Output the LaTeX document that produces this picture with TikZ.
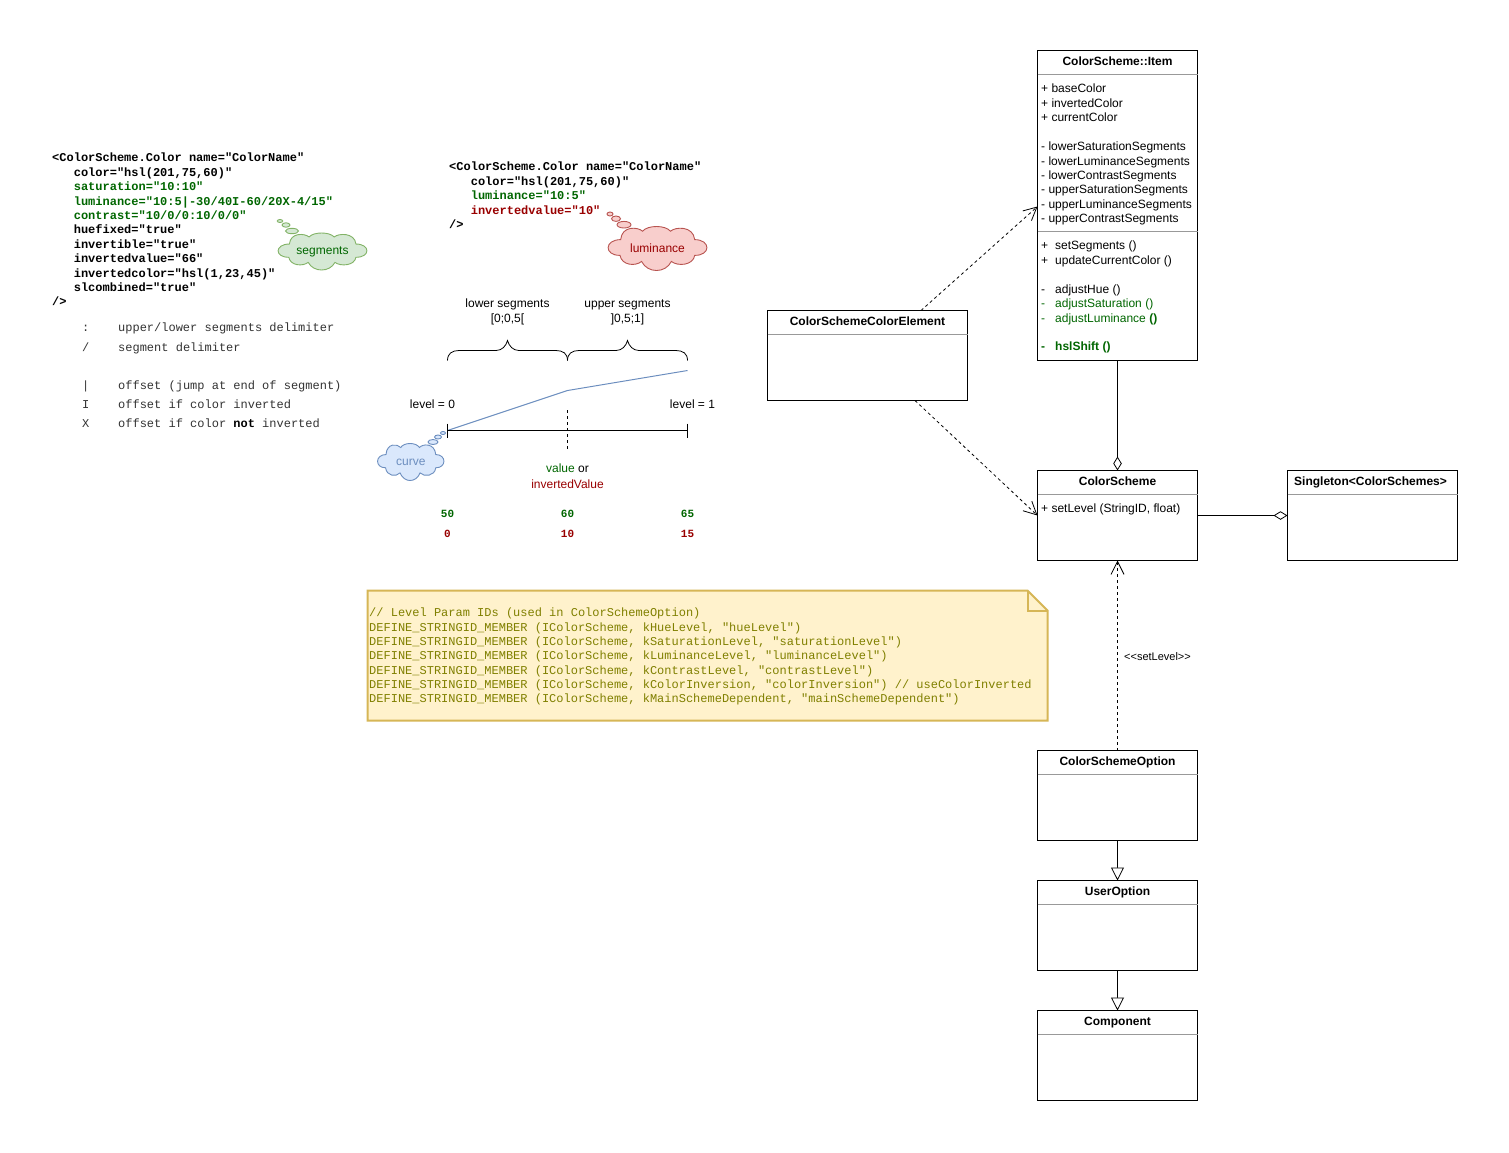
\documentclass[tikz,border=0pt]{standalone}
\usepackage{fontspec}
\usetikzlibrary{arrows.meta,calc}
\setmainfont[Ligatures=NoCommon]{Liberation Sans}
\newfontfamily\sansf{Liberation Sans}
\newfontfamily\monof{Liberation Mono}
\definecolor{dgreen}{HTML}{006600}
\definecolor{dred}{HTML}{990000}
\definecolor{greenfill}{HTML}{D5E8D4}
\definecolor{greenline}{HTML}{82B366}
\definecolor{redfill}{HTML}{F8CECC}
\definecolor{redline}{HTML}{B85450}
\definecolor{bluefill}{HTML}{DAE8FC}
\definecolor{blueline}{HTML}{6C8EBF}
\definecolor{notefill}{HTML}{FFF2CC}
\definecolor{noteline}{HTML}{D6B656}
\definecolor{notetext}{HTML}{808000}
\definecolor{headline}{HTML}{999999}
\definecolor{legendtext}{HTML}{333333}
\tikzset{
  umlbox/.style={draw=black,line width=1pt,fill=white,rectangle,inner sep=0pt,outer sep=0pt,anchor=north west},
  umltitle/.style={font=\sansf\fontsize{12}{14}\selectfont\bfseries,anchor=base,inner sep=0pt},
  membertext/.style={font=\sansf\fontsize{12}{14.43}\selectfont,align=left,anchor=north west,inner sep=0pt},
  sanslabel/.style={font=\sansf\fontsize{12}{16}\selectfont,align=center,anchor=base,inner sep=0pt},
  xmltext/.style={font=\monof\fontsize{12}{14.4}\selectfont\bfseries,align=left,anchor=north west,inner sep=0pt},
  legendrow/.style={font=\monof\fontsize{12}{14}\selectfont,text=legendtext,anchor=base west,inner sep=0pt},
  numtext/.style={font=\monof\fontsize{11}{14}\selectfont\bfseries,anchor=base,inner sep=0pt},
  notecode/.style={font=\monof\fontsize{12}{14.33}\selectfont,text=notetext,align=left,anchor=north west,inner sep=0pt},
  link/.style={line width=.8pt,draw=black},
  dashedlink/.style={link,dash pattern=on 3pt off 3pt,-{Straight Barb[length=13pt,width=13pt,line width=.8pt]}},
  aggregation/.style={link,-{Diamond[open,length=14pt,width=8.5pt,fill=white,line width=.8pt]}},
  inheritance/.style={link,-{Triangle[open,length=13pt,width=13pt,fill=white,line width=.8pt]}},
  bubble/.style={line width=.9pt},
}
% name, x, y, w, h, line y offset
\newcommand{\umlclass}[6]{%
  \node[umlbox,minimum width=#4pt,minimum height=#5pt] (#1) at (#2,#3) {};
  \draw[headline,line width=.8pt] ($(#1.north west)+(0,#6)$) -- ($(#1.north east)+(0,#6)$);
}
% name x y w h fill line textcolor text
\newcommand{\puffcloud}[9]{%
  \begin{scope}[shift={(#2,#3)},x=#4pt,y=-#5pt]
    \draw[fill=#6,draw=#7,line width=.9pt]
      (.128,.298) .. controls (.14,-.02) and (.30,.005) .. (.349,.107)
      .. controls (.40,-.036) and (.58,-.036) .. (.631,.107)
      .. controls (.68,.005) and (.86,-.02) .. (.876,.298)
      .. controls (1.04,.30) and (1.04,.66) .. (.876,.656)
      .. controls (.86,.89) and (.70,.907) .. (.64,.794)
      .. controls (.58,1.069) and (.40,1.069) .. (.339,.794)
      .. controls (.28,.907) and (.14,.89) .. (.121,.656)
      .. controls (-.04,.66) and (-.04,.30) .. (.128,.298) -- cycle;
    \node[font=\sansf\fontsize{12}{14}\selectfont,text=#8,inner sep=0pt] (#1) at (.5,.5) {#9};
  \end{scope}
}
\begin{document}
\begin{tikzpicture}[x=1pt,y=-1pt]
\useasboundingbox (0,0) rectangle (1509,1152);
\fill[white] (0,0) rectangle (1509,1152);

% --- left XML
\node[xmltext] (xmlA) at (52,153) {%
  <ColorScheme.Color name="ColorName"\\
  \hspace*{21.6pt}color="hsl(201,75,60)"\\
  \hspace*{21.6pt}\textcolor{dgreen}{saturation="10:10"}\\
  \hspace*{21.6pt}\textcolor{dgreen}{luminance="10:5|-30/40I-60/20X-4/15"}\\
  \hspace*{21.6pt}\textcolor{dgreen}{contrast="10/0/0:10/0/0"}\\
  \hspace*{21.6pt}huefixed="true"\\
  \hspace*{21.6pt}invertible="true"\\
  \hspace*{21.6pt}invertedvalue="66"\\
  \hspace*{21.6pt}invertedcolor="hsl(1,23,45)"\\
  \hspace*{21.6pt}slcombined="true"\\
  />};

% --- legend
\node[legendrow] (lgA) at (82,331) {\makebox[36pt][l]{:}upper/lower segments delimiter};
\node[legendrow] (lgB) at (82,351) {\makebox[36pt][l]{/}segment delimiter};
\node[legendrow] (lgC) at (82,389) {\makebox[36pt][l]{|}offset (jump at end of segment)};
\node[legendrow] (lgD) at (82,408) {\makebox[36pt][l]{I}offset if color inverted};
\node[legendrow] (lgE) at (82,427) {\makebox[36pt][l]{X}offset if color \textcolor{black}{\bfseries not} inverted};

% --- segments cloud
\draw[bubble,fill=greenfill,draw=greenline] (280,221) ellipse (2.7 and 1.5);
\draw[bubble,fill=greenfill,draw=greenline] (286,225) ellipse (4 and 2.2);
\draw[bubble,fill=greenfill,draw=greenline] (292,231) ellipse (6.5 and 2.7);
\puffcloud{cloudSeg}{278}{233}{89}{37}{greenfill}{greenline}{dgreen}{segments}

% --- middle XML
\node[xmltext] (xmlB) at (449,162) {%
  <ColorScheme.Color name="ColorName"\\
  \hspace*{21.6pt}color="hsl(201,75,60)"\\
  \hspace*{21.6pt}\textcolor{dgreen}{luminance="10:5"}\\
  \hspace*{21.6pt}\textcolor{dred}{invertedvalue="10"}\\
  />};

% --- luminance cloud
\draw[bubble,fill=redfill,draw=redline] (610,214) ellipse (3 and 2);
\draw[bubble,fill=redfill,draw=redline] (616,218.7) ellipse (4.5 and 2.7);
\draw[bubble,fill=redfill,draw=redline] (624,224.7) ellipse (7 and 3.3);
\puffcloud{cloudLum}{608}{226.5}{99}{44}{redfill}{redline}{dred}{luminance}

% --- segment labels
\node[sanslabel] (lblLower) at (507.5,307) {lower segments};
\node[sanslabel] (lblLowerB) at (507.5,322) {[0;0,5[};
\node[sanslabel] (lblUpper) at (627.5,307) {upper segments};
\node[sanslabel] (lblUpperB) at (627.5,322) {]0,5;1]};

% --- braces
\draw[line width=.8pt,black]
  (447.5,360.5) .. controls (447.5,353.5) and (452,350.5) .. (459,350.5) -- (496,350.5)
  .. controls (502,350.5) and (506,346) .. (507.5,340.5)
  .. controls (509,346) and (513,350.5) .. (519,350.5) -- (556,350.5)
  .. controls (563,350.5) and (567.5,353.5) .. (567.5,360.5);
\draw[line width=.8pt,black]
  (567.5,360.5) .. controls (567.5,353.5) and (572,350.5) .. (579,350.5) -- (616,350.5)
  .. controls (622,350.5) and (626,346) .. (627.5,340.5)
  .. controls (629,346) and (633,350.5) .. (639,350.5) -- (676,350.5)
  .. controls (683,350.5) and (687.5,353.5) .. (687.5,360.5);

% --- axis and curve
\draw[blueline,line width=1pt] (447.5,430.5) -- (567.5,390.5) -- (687.5,370.5);
\draw[line width=.8pt,black] (447.5,430.5) -- (687.5,430.5);
\draw[line width=.8pt,black] (447.5,423.5) -- (447.5,437.5);
\draw[line width=.8pt,black] (687.5,423.5) -- (687.5,437.5);
\draw[line width=.8pt,black,dash pattern=on 3pt off 3pt] (567.5,410) -- (567.5,450);
\node[sanslabel] (lvlA) at (432.5,408) {level = 0};
\node[sanslabel] (lvlB) at (692.5,408) {level = 1};
\node[sanslabel] (valA) at (567.5,472) {\textcolor{dgreen}{value} or};
\node[sanslabel,text=dred] (valB) at (567.5,488) {invertedValue};

% --- curve cloud
\draw[bubble,fill=bluefill,draw=blueline] (443,433) ellipse (2.5 and 1.5);
\draw[bubble,fill=bluefill,draw=blueline] (438,437) ellipse (3.5 and 2);
\draw[bubble,fill=bluefill,draw=blueline] (433,442) ellipse (5 and 2.5);
\puffcloud{cloudCurve}{377.5}{443.5}{66.5}{37}{bluefill}{blueline}{blueline}{curve}

% --- numbers
\node[numtext,text=dgreen] (nA) at (447.5,517) {50};
\node[numtext,text=dgreen] (nB) at (567.5,517) {60};
\node[numtext,text=dgreen] (nC) at (687.5,517) {65};
\node[numtext,text=dred] (nD) at (447.5,537) {0};
\node[numtext,text=dred] (nE) at (567.5,537) {10};
\node[numtext,text=dred] (nF) at (687.5,537) {15};

% --- note
\draw[noteline,fill=notefill,line width=2pt,line join=miter]
  (367.5,590.5) -- (1027.5,590.5) -- (1047.5,610.5) -- (1047.5,720.5) -- (367.5,720.5) -- cycle;
\draw[noteline,line width=2pt] (1027.5,590.5) -- (1027.5,610.5) -- (1047.5,610.5);
\node[notecode] (noteText) at (369,608) {%
  // Level Param IDs (used in ColorSchemeOption)\\
  DEFINE\_STRINGID\_MEMBER (IColorScheme, kHueLevel, "hueLevel")\\
  DEFINE\_STRINGID\_MEMBER (IColorScheme, kSaturationLevel, "saturationLevel")\\
  DEFINE\_STRINGID\_MEMBER (IColorScheme, kLuminanceLevel, "luminanceLevel")\\
  DEFINE\_STRINGID\_MEMBER (IColorScheme, kContrastLevel, "contrastLevel")\\
  DEFINE\_STRINGID\_MEMBER (IColorScheme, kColorInversion, "colorInversion") // useColorInverted\\
  DEFINE\_STRINGID\_MEMBER (IColorScheme, kMainSchemeDependent, "mainSchemeDependent")};

% --- classes
\umlclass{item}{1037.5}{50.5}{160}{310}{24}
\draw[headline,line width=.8pt] (1037.5,231.5) -- (1197.5,231.5);
\node[umltitle] (itemT) at (1117.5,65) {ColorScheme::Item};
\node[membertext] (itemAttr) at (1041,84) {%
  + baseColor\\ + invertedColor\\ + currentColor\\ \mbox{}\\
  - lowerSaturationSegments\\ - lowerLuminanceSegments\\ - lowerContrastSegments\\
  - upperSaturationSegments\\ - upperLuminanceSegments\\ - upperContrastSegments};
\node[membertext] (itemOps) at (1041,241) {%
  \makebox[14pt][l]{+}setSegments ()\\
  \makebox[14pt][l]{+}updateCurrentColor ()\\ \mbox{}\\
  \makebox[14pt][l]{-}adjustHue ()\\
  \textcolor{dgreen}{\makebox[14pt][l]{-}adjustSaturation ()}\\
  \textcolor{dgreen}{\makebox[14pt][l]{-}adjustLuminance \textbf{()}}\\ \mbox{}\\
  \textcolor{dgreen}{\textbf{\makebox[14pt][l]{-}hslShift ()}}};

\umlclass{csce}{767.5}{310.5}{200}{90}{24}
\node[umltitle] (csceT) at (867.5,325) {ColorSchemeColorElement};

\umlclass{cs}{1037.5}{470.5}{160}{90}{24}
\node[umltitle] (csT) at (1117.5,485) {ColorScheme};
\node[membertext] (csM) at (1041,504) {+ setLevel (StringID, float)};

\umlclass{single}{1287.5}{470.5}{170}{90}{24}
\node[umltitle] (singleT) at (1370.5,485) {Singleton<ColorSchemes>};

\umlclass{opt}{1037.5}{750.5}{160}{90}{24}
\node[umltitle] (optT) at (1117.5,765) {ColorSchemeOption};

\umlclass{user}{1037.5}{880.5}{160}{90}{24}
\node[umltitle] (userT) at (1117.5,895) {UserOption};

\umlclass{comp}{1037.5}{1010.5}{160}{90}{24}
\node[umltitle] (compT) at (1117.5,1025) {Component};

% --- connectors
\coordinate (csceTop) at (921,310.5);
\coordinate (csceBot) at (915,400.5);
\coordinate (itemIn) at (1037.5,206.5);
\coordinate (csIn) at (1037.5,515.5);
\coordinate (csOut) at (1197.5,515.5);
\coordinate (singleIn) at (1287.5,515.5);
\draw[dashedlink] (csceTop) -- (itemIn);
\draw[dashedlink] (csceBot) -- (csIn);
\draw[aggregation] (item.south) -- (cs.north);
\draw[aggregation] (csOut) -- (singleIn);
\draw[dashedlink] (opt.north) -- (cs.south);
\node[font=\sansf\fontsize{11}{13}\selectfont,anchor=base,inner sep=0pt] (setLvl) at (1157.5,660) {<{}<setLevel>{}>};
\draw[inheritance] (opt.south) -- (user.north);
\draw[inheritance] (user.south) -- (comp.north);
\end{tikzpicture}
\end{document}
